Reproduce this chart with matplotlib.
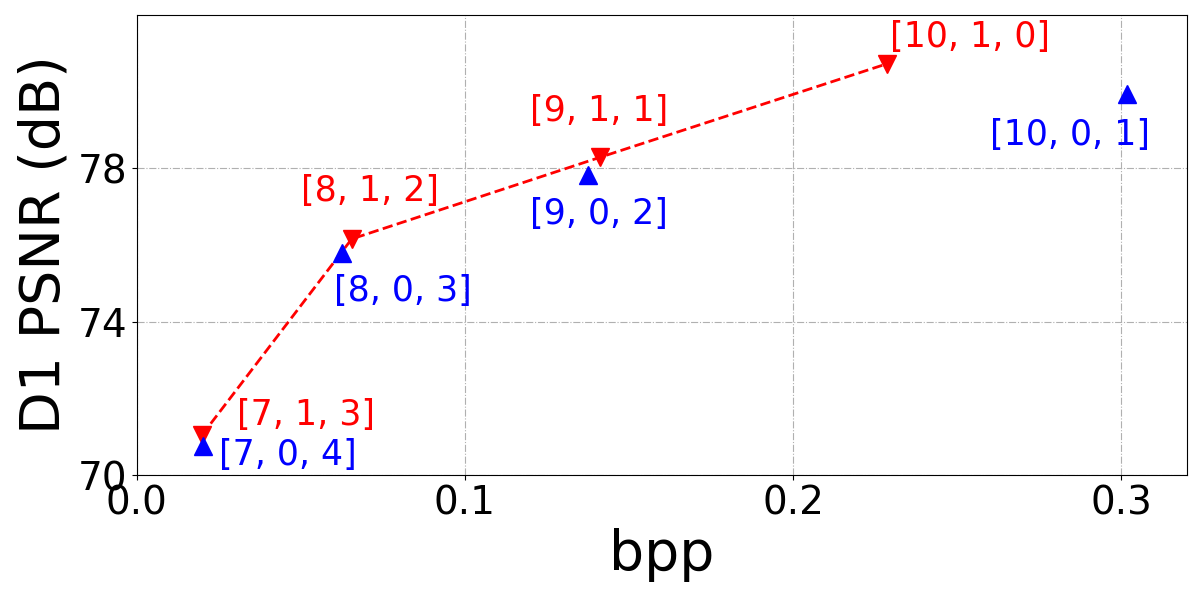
import matplotlib
matplotlib.use('Agg')
import matplotlib.pyplot as plt

# blue: [x, 0, y] configs, red: [x, 1, y] configs
bpp_blue = [0.0201, 0.0625, 0.1375, 0.3018]
psnr_blue = [70.75, 75.79, 77.82, 79.95]
labels_blue = ['[7, 0, 4]', '[8, 0, 3]', '[9, 0, 2]', '[10, 0, 1]']

bpp_red = [0.0198, 0.0655, 0.1412, 0.2287]
psnr_red = [71.04, 76.16, 78.29, 80.73]
labels_red = ['[7, 1, 3]', '[8, 1, 2]', '[9, 1, 1]', '[10, 1, 0]']

# label offsets in pixels
off_blue = [(16, -9), (-8, -38), (-58, -39), (-137, -41)]
off_red = [(35, 20), (-51, 48), (-70, 46), (3, 27)]

fig, ax = plt.subplots(figsize=(12, 6), dpi=100)
ax.grid(True, linestyle='-.', color='#b0b0b0', linewidth=0.8)

ax.plot(bpp_red, psnr_red, color='red', linestyle='--', linewidth=2,
        marker='v', markersize=13)
ax.plot(bpp_blue, psnr_blue, color='blue', linestyle='none',
        marker='^', markersize=13)

for x, y, t, o in zip(bpp_blue, psnr_blue, labels_blue, off_blue):
    ax.annotate(t, (x, y), xytext=o, textcoords='offset pixels',
                color='blue', fontsize=25, ha='left', va='center')
for x, y, t, o in zip(bpp_red, psnr_red, labels_red, off_red):
    ax.annotate(t, (x, y), xytext=o, textcoords='offset pixels',
                color='red', fontsize=25, ha='left', va='center')

ax.set_xlim(0, 0.32)
ax.set_ylim(70, 82)
ax.set_xticks([0.0, 0.1, 0.2, 0.3])
ax.set_yticks([70, 74, 78])
ax.tick_params(labelsize=28)
ax.set_xlabel('bpp', fontsize=40)
ax.set_ylabel('D1 PSNR (dB)', fontsize=40)

plt.subplots_adjust(left=0.114, right=0.989, top=0.975, bottom=0.208)
plt.savefig('out.png')
